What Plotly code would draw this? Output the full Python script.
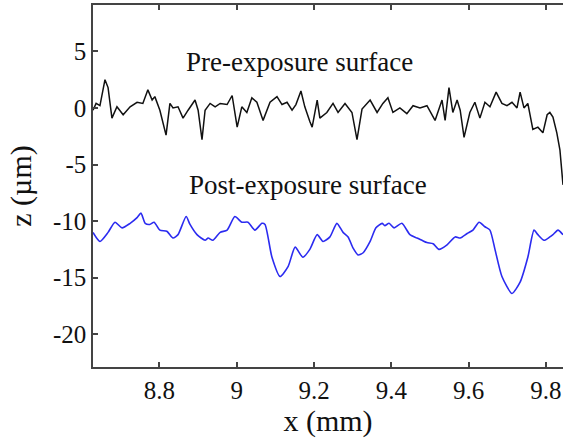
import plotly.graph_objects as go

# Pre-exposure surface profile (x in mm, z in µm)
pre_x = [8.628, 8.636, 8.646, 8.659, 8.667, 8.677, 8.690, 8.706, 8.724, 8.742, 8.757, 8.770,
         8.781, 8.788, 8.801, 8.817, 8.827, 8.835, 8.848, 8.861, 8.874, 8.892, 8.900, 8.910,
         8.918, 8.931, 8.944, 8.957, 8.975, 8.988, 9.001, 9.013, 9.026, 9.039, 9.052, 9.068,
         9.086, 9.104, 9.117, 9.130, 9.143, 9.153, 9.166, 9.176, 9.189, 9.195, 9.208, 9.215,
         9.233, 9.249, 9.262, 9.280, 9.298, 9.311, 9.324, 9.345, 9.363, 9.378, 9.391, 9.404,
         9.422, 9.440, 9.456, 9.474, 9.492, 9.513, 9.531, 9.539, 9.549, 9.559, 9.570, 9.578,
         9.588, 9.603, 9.616, 9.629, 9.642, 9.655, 9.671, 9.686, 9.699, 9.712, 9.725, 9.733,
         9.743, 9.753, 9.766, 9.779, 9.792, 9.803, 9.810, 9.818, 9.828, 9.836, 9.844]
pre_z = [-0.2, 0.4, 0.2, 2.5, 1.8, -0.9, 0.1, -0.6, 0.1, 0.5, 0.4, 1.6,
         0.7, 1.0, -0.2, -2.4, 0.4, 0.0, 0.1, -0.9, -0.2, 0.7, -0.2, -2.8,
         -0.2, 0.4, 0.1, 0.4, 0.3, 1.1, -1.7, 0.1, -0.4, 0.9, 0.5, -1.1,
         0.5, 1.0, 0.3, 0.5, -0.2, 0.3, 1.5, 0.1, -1.2, -1.7, 0.7, -0.9,
         -0.4, 0.4, -0.4, 0.4, -0.4, -2.8, -0.1, 0.7, -0.4, 0.4, 0.9, -0.4,
         0.0, -0.5, 0.2, 0.0, 0.2, -1.1, 0.7, -1.1, 1.8, -0.4, 0.7, -0.2,
         -2.6, -0.4, 0.5, -0.9, 0.5, 0.1, 1.4, 0.4, 0.2, 0.5, 0.0, 1.4,
         0.0, 0.4, -1.9, -1.7, -2.2, -0.6, -0.4, -0.8, -2.2, -3.7, -6.8]

# Post-exposure surface profile
post_x = [8.628, 8.646, 8.667, 8.685, 8.703, 8.724, 8.742, 8.752, 8.763, 8.775, 8.786, 8.801,
          8.819, 8.835, 8.848, 8.869, 8.879, 8.897, 8.918, 8.926, 8.938, 8.957, 8.975, 8.995,
          9.013, 9.029, 9.047, 9.065, 9.073, 9.091, 9.112, 9.133, 9.151, 9.171, 9.189, 9.208,
          9.223, 9.241, 9.259, 9.275, 9.288, 9.301, 9.314, 9.327, 9.345, 9.360, 9.376, 9.383,
          9.394, 9.407, 9.427, 9.448, 9.466, 9.479, 9.492, 9.508, 9.523, 9.544, 9.565, 9.578,
          9.596, 9.611, 9.627, 9.642, 9.655, 9.668, 9.686, 9.712, 9.733, 9.753, 9.769, 9.779,
          9.795, 9.810, 9.818, 9.831, 9.844]
post_z = [-11.0, -11.8, -11.0, -10.1, -10.6, -10.2, -9.7, -9.3, -10.2, -10.3, -10.1, -10.8,
          -10.9, -11.5, -11.2, -9.6, -10.3, -11.2, -11.7, -11.5, -11.7, -11.0, -10.8, -9.6,
          -10.1, -10.1, -10.8, -10.2, -10.3, -13.2, -14.9, -14.0, -12.3, -13.2, -12.5, -11.2,
          -11.8, -11.4, -10.2, -11.0, -11.4, -12.4, -13.0, -12.8, -11.8, -10.6, -10.2, -10.4,
          -10.2, -10.6, -10.2, -11.2, -11.5, -11.7, -11.9, -12.0, -12.5, -12.1, -11.4, -11.5,
          -11.1, -10.8, -10.1, -10.5, -10.8, -12.5, -14.9, -16.4, -15.4, -13.2, -10.8, -11.2,
          -11.7, -11.4, -11.2, -10.8, -11.2]

x_ticks = [8.8, 9.0, 9.2, 9.4, 9.6, 9.8]
x_ticktext = ["8.8", "9", "9.2", "9.4", "9.6", "9.8"]
y_ticks = [-20, -15, -10, -5, 0, 5]
y_ticktext = ["-20", "-15", "-10", "-5", "0", "5"]

FONT = "Liberation Serif"
AX = "#444444"

fig = go.Figure()
fig.add_trace(go.Scatter(x=pre_x, y=pre_z, mode="lines",
                         line=dict(color="#111111", width=1.5), showlegend=False))
fig.add_trace(go.Scatter(x=post_x, y=post_z, mode="lines",
                         line=dict(color="#2b2bf0", width=1.6, shape="spline", smoothing=0.6),
                         showlegend=False))

fig.add_annotation(text="Pre-exposure surface", xref="paper", yref="paper",
                   x=0.44, y=0.843, xanchor="center", yanchor="middle", showarrow=False,
                   font=dict(family=FONT, size=27, color="#111111"))
fig.add_annotation(text="Post-exposure surface", xref="paper", yref="paper",
                   x=0.457, y=0.503, xanchor="center", yanchor="middle", showarrow=False,
                   font=dict(family=FONT, size=27, color="#111111"))

fig.update_layout(
    width=563, height=438,
    margin=dict(l=93, r=0, t=5, b=71),
    paper_bgcolor="white", plot_bgcolor="white",
    font=dict(family=FONT, size=25, color="#111111"),
    xaxis=dict(range=[8.628, 9.844], tickvals=x_ticks, ticktext=x_ticktext,
               ticks="inside", ticklen=5, tickcolor=AX, tickwidth=1.5,
               showline=True, linecolor=AX, linewidth=1.5, mirror="ticks",
               showgrid=False, zeroline=False, automargin=False,
               title=dict(text="x (mm)", standoff=0)),
    yaxis=dict(range=[-22.9, 9.1], tickvals=y_ticks, ticktext=y_ticktext,
               ticks="inside", ticklen=5, tickcolor=AX, tickwidth=1.5,
               showline=True, linecolor=AX, linewidth=1.5, mirror=False,
               showgrid=False, zeroline=False, automargin=False,
               title=dict(text="z (µm)", standoff=12)),
)

fig.write_html("out.html", config={"displayModeBar": False},
               post_script="document.body.style.margin='0';document.body.style.overflow='hidden';")
